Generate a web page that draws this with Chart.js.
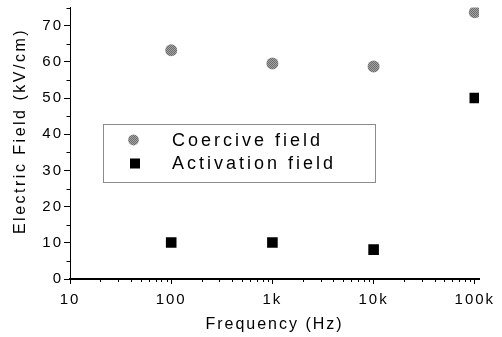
<!DOCTYPE html>
<html>
<head>
<meta charset="utf-8">
<script src="https://cdn.jsdelivr.net/npm/chart.js@4.4.1/dist/chart.umd.min.js"></script>
<style>
  html, body { margin: 0; padding: 0; background: #fff; }
  canvas { display: block; }
</style>
</head>
<body>
<canvas id="chart" width="502" height="337"></canvas>
<script>
// Measured fields versus drive frequency
const frequencies = [100, 1000, 10000, 100000];
const coerciveField = [63.2, 59.5, 58.7, 73.7];
const activationField = [10.1, 10.1, 8.1, 50.0];
const seriesNames = ['Coercive field', 'Activation field'];

// Axis ticks and titles
const xTickValues = [10, 100, 1000, 10000, 100000];
const xTickLabels = ['10', '100', '1k', '10k', '100k'];
const yTickValues = [0, 10, 20, 30, 40, 50, 60, 70];
const xTitle = 'Frequency (Hz)';
const yTitle = 'Electric Field (kV/cm)';

const FONT = "'Liberation Sans', Arial, sans-serif";
Chart.defaults.font.family = FONT;
Chart.defaults.color = '#000';

// Dithered grey fill for the round markers
function ditherPattern() {
  const c = document.createElement('canvas');
  c.width = 2; c.height = 2;
  const g = c.getContext('2d');
  g.fillStyle = '#a4a4a4'; g.fillRect(0, 0, 2, 2);
  g.fillStyle = '#6c6c6c'; g.fillRect(0, 0, 1, 1); g.fillRect(1, 1, 1, 1);
  return g.createPattern(c, 'repeat');
}
const greyDots = ditherPattern();

const toPoints = (ys) => frequencies.map((f, i) => ({ x: f, y: ys[i] }));

// Minor tick positions between labelled ticks
const xMinor = [];
[10, 100, 1000, 10000].forEach(d => { for (let m = 2; m <= 9; m++) xMinor.push(d * m); });
const yMinor = [5, 15, 25, 35, 45, 55, 65, 75];

const spacingPlugin = {
  id: 'spacing',
  beforeUpdate(chart) { chart.ctx.letterSpacing = '2px'; },
  beforeDraw(chart) { chart.ctx.letterSpacing = '2px'; }
};

const decorPlugin = {
  id: 'decor',
  afterDraw(chart) {
    const ctx = chart.ctx;
    const xs = chart.scales.x, ys = chart.scales.y;

    // minor tick marks, pointing outward
    ctx.save();
    ctx.strokeStyle = '#000';
    ctx.lineWidth = 1;
    ctx.beginPath();
    xMinor.forEach(v => {
      const px = Math.round(xs.getPixelForValue(v)) + 0.5;
      ctx.moveTo(px, xs.top);
      ctx.lineTo(px, xs.top + 3);
    });
    yMinor.forEach(v => {
      const py = Math.round(ys.getPixelForValue(v)) + 0.5;
      ctx.moveTo(ys.right, py);
      ctx.lineTo(ys.right - 3.5, py);
    });
    ctx.stroke();
    ctx.restore();

    // vertical axis title
    ctx.save();
    ctx.letterSpacing = '2.5px';
    ctx.font = '16px ' + FONT;
    ctx.fillStyle = '#000';
    ctx.textAlign = 'center';
    ctx.textBaseline = 'middle';
    ctx.translate(21, 131);
    ctx.rotate(-Math.PI / 2);
    ctx.fillText(yTitle, 0, 0);
    ctx.restore();

    // framed legend inside the plot
    ctx.save();
    ctx.strokeStyle = '#8c8c8c';
    ctx.lineWidth = 1;
    ctx.strokeRect(103.5, 124.5, 272, 58);
    ctx.letterSpacing = '3px';
    ctx.font = '18px ' + FONT;
    ctx.textAlign = 'left';
    ctx.textBaseline = 'middle';
    const rows = [140, 163.5];
    chart.data.datasets.forEach((ds, i) => {
      const y = rows[i];
      ctx.fillStyle = ds.backgroundColor;
      if (ds.pointStyle === 'circle') {
        ctx.beginPath();
        ctx.arc(133.5, y, 5.4, 0, Math.PI * 2);
        ctx.fill();
      } else {
        ctx.fillRect(130, y - 5, 10, 10);
      }
      ctx.fillStyle = '#000';
      ctx.fillText(ds.label, 172, y + 1);
    });
    ctx.restore();
  }
};

new Chart(document.getElementById('chart'), {
  type: 'scatter',
  data: {
    datasets: [
      {
        label: seriesNames[0],
        data: toPoints(coerciveField),
        pointStyle: 'circle',
        pointRadius: 6,
        pointHoverRadius: 6,
        borderWidth: 0,
        backgroundColor: greyDots,
        borderColor: 'rgba(0,0,0,0)'
      },
      {
        label: seriesNames[1],
        data: toPoints(activationField),
        pointStyle: 'rect',
        pointRadius: 7.5,
        pointHoverRadius: 7.5,
        borderWidth: 0,
        backgroundColor: '#000',
        borderColor: 'rgba(0,0,0,0)'
      }
    ]
  },
  options: {
    responsive: false,
    animation: false,
    devicePixelRatio: 1,
    layout: { padding: { top: 6, right: 23, left: 0, bottom: 0 } },
    plugins: {
      legend: { display: false },
      tooltip: { enabled: false }
    },
    scales: {
      x: {
        type: 'logarithmic',
        position: 'bottom',
        min: 10,
        max: 110000,
        border: { display: true, color: '#000', width: 2 },
        grid: { display: true, drawOnChartArea: false, drawTicks: true, tickLength: 5, color: '#000', lineWidth: 1 },
        ticks: {
          font: { size: 15 },
          color: '#000',
          padding: 7,
          maxRotation: 0,
          autoSkip: false,
          callback: (v) => {
            const i = xTickValues.indexOf(v);
            return i >= 0 ? xTickLabels[i] : '';
          }
        },
        afterBuildTicks: (scale) => { scale.ticks = xTickValues.map(v => ({ value: v })); },
        afterFit: (scale) => {
          scale.height = 58;
          scale.paddingLeft = 0; scale.paddingRight = 0;
        },
        title: {
          display: true,
          text: xTitle,
          font: { size: 16 },
          color: '#000',
          padding: { top: 0, bottom: 3 }
        }
      },
      y: {
        type: 'linear',
        min: 0,
        max: 75,
        border: { display: true, color: '#000', width: 1 },
        grid: { display: true, drawOnChartArea: false, drawTicks: true, tickLength: 6, color: '#000', lineWidth: 1 },
        ticks: {
          font: { size: 15 },
          color: '#000',
          padding: 1,
          autoSkip: false
        },
        afterBuildTicks: (scale) => { scale.ticks = yTickValues.map(v => ({ value: v })); },
        afterFit: (scale) => {
          scale.width = 70;
          scale.paddingTop = 0; scale.paddingBottom = 0;
        },
        title: { display: false }
      }
    }
  },
  plugins: [spacingPlugin, decorPlugin]
});
</script>
</body>
</html>
